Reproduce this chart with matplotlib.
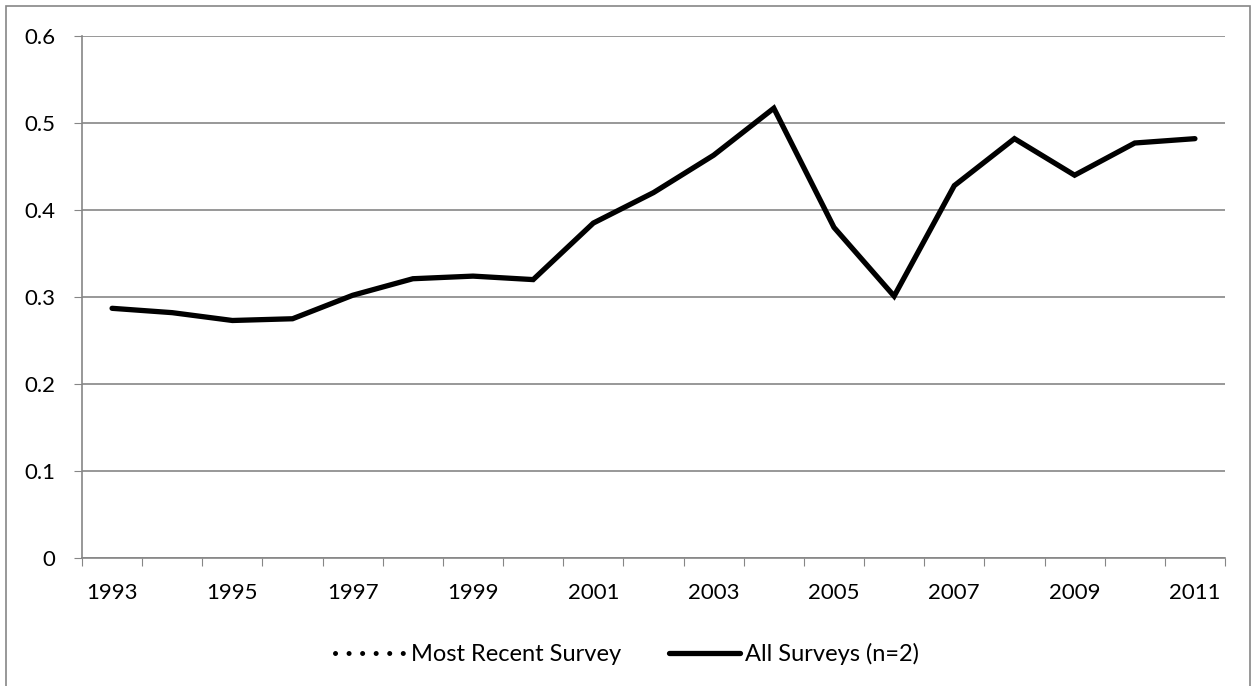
import matplotlib
matplotlib.use("Agg")
import matplotlib.pyplot as plt
from matplotlib.patches import Rectangle

years = list(range(1993, 2012))
all_surveys = [0.287, 0.282, 0.273, 0.275, 0.302, 0.321, 0.324, 0.320, 0.385, 0.420,
               0.463, 0.517, 0.380, 0.301, 0.428, 0.482, 0.440, 0.477, 0.482]
most_recent = []  # series present in legend only

plt.rcParams["font.family"] = ["Lato", "DejaVu Sans"]

fig = plt.figure(figsize=(12.54, 6.86), dpi=100)
ax = fig.add_axes([82 / 1254, 1 - 558 / 686, (1225 - 82) / 1254, (558 - 36) / 686])

idx = list(range(len(years)))
ax.plot(most_recent, most_recent, color="black", linestyle=(0, (0.01, 2.7)), linewidth=3.6,
        dash_capstyle="round", label="Most Recent Survey")
ax.plot(idx, all_surveys, color="black", linewidth=3.8, solid_joinstyle="miter",
        solid_capstyle="round", label="All Surveys (n=2)")

ax.set_xlim(-0.5, len(years) - 0.5)
ax.set_ylim(0, 0.6)
ax.set_yticks([0, 0.1, 0.2, 0.3, 0.4, 0.5, 0.6])
ax.set_yticklabels(["0", "0.1", "0.2", "0.3", "0.4", "0.5", "0.6"])
ax.set_xticks([i - 0.5 for i in range(len(years) + 1)])
ax.set_xticklabels([])
ax.set_xticks(idx[::2], minor=True)
ax.set_xticklabels([str(y) for y in years[::2]], minor=True)
ax.tick_params(axis="x", which="minor", length=0, pad=18, labelsize=16)
ax.tick_params(axis="x", which="major", length=6, color="#868686", direction="out")
ax.tick_params(axis="y", length=6, color="#868686", labelsize=16, pad=13)
ax.grid(axis="y", color="#868686", linewidth=1.2)
ax.set_axisbelow(True)
for s in ["top", "right"]:
    ax.spines[s].set_visible(False)
for s in ["left", "bottom"]:
    ax.spines[s].set_color("#868686")
    ax.spines[s].set_linewidth(1.2)

fig.legend(loc="center", bbox_to_anchor=(0.5, 1 - 654 / 686), ncol=2, frameon=False,
           fontsize=17, handlelength=3.0, handletextpad=0.25, columnspacing=2.0)

fig.add_artist(Rectangle((6 / 1254, -0.01), (1250 - 6) / 1254, 1 - 6 / 686 + 0.01,
                         transform=fig.transFigure, fill=False, edgecolor="#868686",
                         linewidth=1.2))

fig.savefig("out.png", dpi=100)
